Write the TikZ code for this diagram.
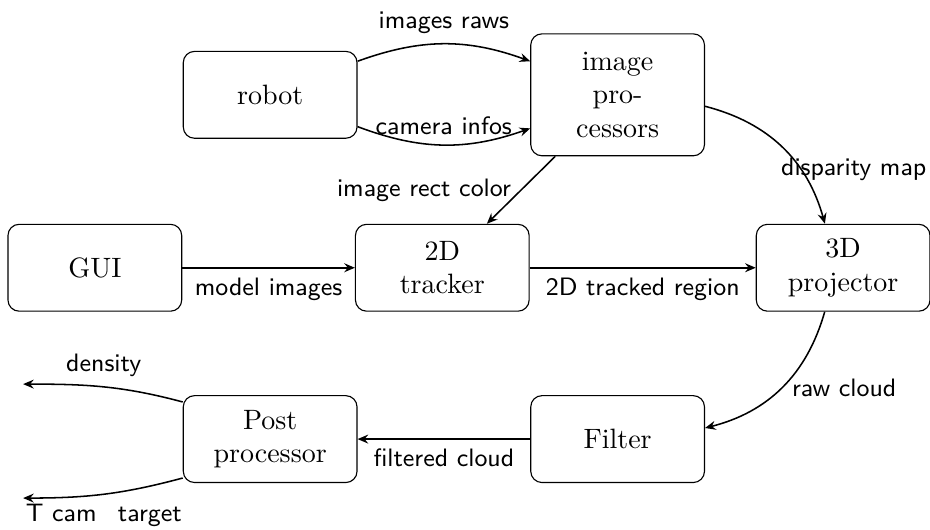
\documentclass[tikz,border=0pt]{standalone}
\usetikzlibrary{arrows.meta}

\begin{document}
\begin{tikzpicture}[
  >={Stealth[length=3.8pt,width=3.2pt,inset=1.3pt]},
  box/.style={
    draw,
    rounded corners,
    align=center,
    text width=1.5cm,
    minimum width=2.18cm,
    minimum height=1.09cm,
  },
  flow/.style={->, line width=0.55pt},
  tag/.style={font=\sffamily\small},
]
  \useasboundingbox (0,0) rectangle (11.67,6.65);

  \node[box] (robot) at (3.39,5.46) {robot};
  \node[box, minimum height=1.53cm] (improc) at (7.75,5.46) {image processors};
  \node[box] (gui) at (1.19,3.29) {GUI};
  \node[box] (tracker) at (5.55,3.29) {2D tracker};
  \node[box] (projector) at (10.58,3.29) {3D projector};
  \node[box] (post) at (3.39,1.14) {Post processor};
  \node[box] (filter) at (7.75,1.14) {Filter};
  \coordinate (density) at (0.29,1.83);
  \coordinate (tcam) at (0.29,0.40);

  \draw[flow] (robot.21) to[bend left=20] node[tag, above] {images raws} (improc.159);
  \draw[flow] (robot.-20) to[bend right=20] node[tag, above] {camera infos} (improc.201);
  \draw[flow] (improc) -- node[tag, left] {image rect color} (tracker);
  \draw[flow] (improc) to[bend left] node[tag, below right, xshift=-4pt] {disparity map} (projector);
  \draw[flow] (gui) -- node[tag, below] {model images} (tracker);
  \draw[flow] (tracker) -- node[tag, below] {2D tracked region} (projector);
  \draw[flow] (projector) to[bend left] node[tag, right] {raw cloud} (filter);
  \draw[flow] (filter) -- node[tag, below] {filtered cloud} (post);
  \draw[flow] (post.157) to[out=165, in=0] node[tag, above] {density} (density);
  \draw[flow] (post.204) to[out=195, in=0] node[tag, below] {T cam\enskip\ target} (tcam);

\end{tikzpicture}
\end{document}
